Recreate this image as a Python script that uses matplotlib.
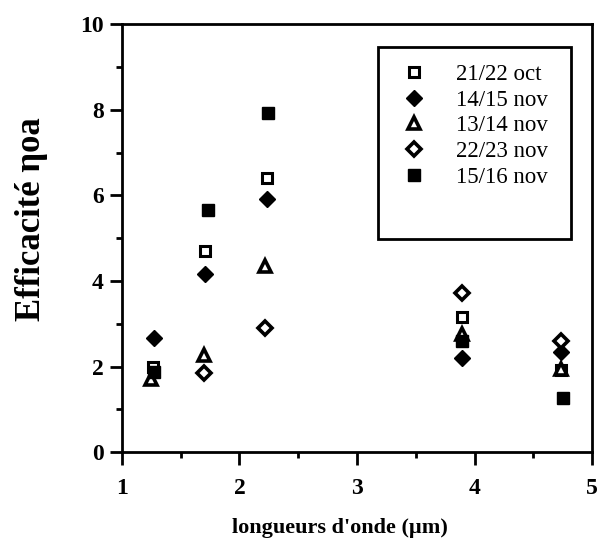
import matplotlib
matplotlib.use('Agg')
from matplotlib import pyplot as plt
from matplotlib.patches import Rectangle
from matplotlib.ticker import MultipleLocator

# Data: wavelength (um) and efficiency for each night
x_oct2122 = [1.26, 1.71, 2.23, 3.89, 4.74]
y_oct2122 = [1.98, 4.69, 6.41, 3.15, 1.93]

x_nov1415 = [1.27, 1.71, 2.23, 3.89, 4.74]
y_nov1415 = [2.66, 4.17, 5.92, 2.19, 2.35]

x_nov1314 = [1.25, 1.70, 2.22, 3.89, 4.74]
y_nov1314 = [1.70, 2.28, 4.34, 2.75, 1.95]

x_nov2223 = [1.70, 2.22, 3.89, 4.74]
y_nov2223 = [1.84, 2.89, 3.71, 2.59]

x_nov1516 = [1.27, 1.73, 2.24, 3.89, 4.75]
y_nov1516 = [1.88, 5.66, 7.92, 2.59, 1.26]

labels = ['21/22 oct', '14/15 nov', '13/14 nov', '22/23 nov', '15/16 nov']

plt.rcParams['font.family'] = ['Liberation Serif', 'DejaVu Serif']

fig = plt.figure(figsize=(5.98, 5.5), dpi=100)
ax = fig.add_axes([0.204, 0.178, 0.786, 0.778])

ax.plot(x_oct2122, y_oct2122, 's', ms=7.5, mfc='white', mec='black', mew=2.2,
        ls='none', label=labels[0])
ax.plot(x_nov1415, y_nov1415, 'D', ms=8, color='black', ls='none', label=labels[1])
ax.plot(x_nov1314, y_nov1314, '^', ms=9, mfc='white', mec='black', mew=2.6,
        ls='none', label=labels[2])
ax.plot(x_nov2223, y_nov2223, 'D', ms=7, mfc='white', mec='black', mew=2.6,
        ls='none', label=labels[3])
ax.plot(x_nov1516, y_nov1516, 's', ms=9, color='black', ls='none', label=labels[4])

ax.set_xlim(1, 5)
ax.set_ylim(0, 10)
ax.xaxis.set_major_locator(MultipleLocator(1))
ax.xaxis.set_minor_locator(MultipleLocator(0.5))
ax.yaxis.set_major_locator(MultipleLocator(2))
ax.yaxis.set_minor_locator(MultipleLocator(1))
ax.tick_params(which='major', direction='out', length=9, width=2, labelsize=17)
ax.tick_params(which='minor', direction='out', length=4, width=2)
ax.tick_params(axis='x', which='major', pad=10)
ax.tick_params(axis='y', which='major', pad=4)
for lab in ax.get_xticklabels() + ax.get_yticklabels():
    lab.set_fontweight('bold')
for sp in ax.spines.values():
    sp.set_linewidth(2)

ax.set_xlabel("longueurs d'onde (\u00b5m)", fontsize=16, fontweight='bold')
ax.xaxis.set_label_coords(0.464, -0.155)
ax.set_ylabel('Efficacit\u00e9 \u03b7oa', fontsize=25, fontweight='bold')
ax.yaxis.set_label_coords(-0.158, 0.545)

# legend frame is taller than the entries in the original
ax.add_patch(Rectangle((0.545, 0.497), 0.41, 0.45, transform=ax.transAxes,
                       fill=False, lw=2, ec='black', zorder=5))
ax.legend(loc='upper left', bbox_to_anchor=(0.54, 0.955), frameon=False,
          fontsize=16.5, labelspacing=0.2, handletextpad=1.1, handlelength=1.5)

fig.savefig('out.png', dpi=100)
